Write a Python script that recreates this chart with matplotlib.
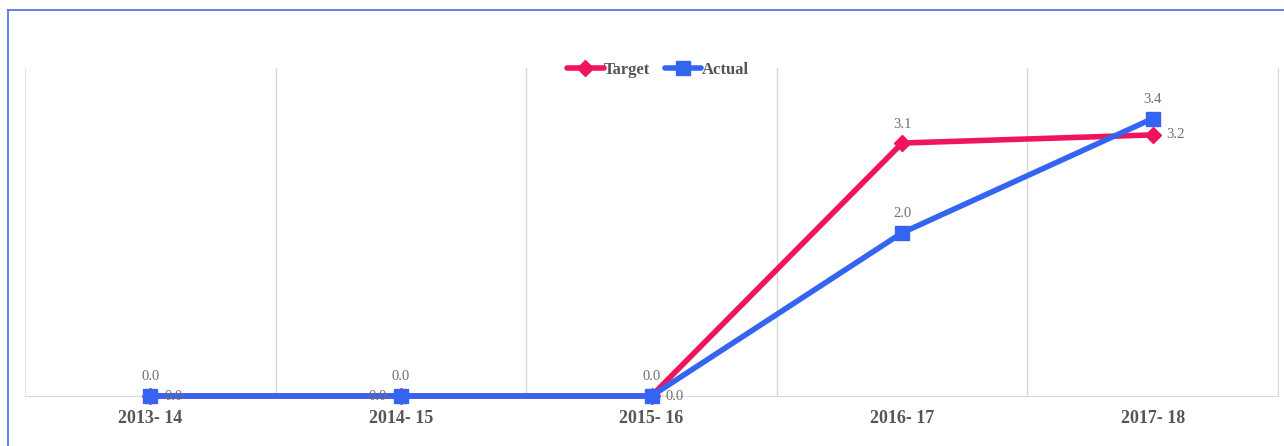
import matplotlib
matplotlib.use("Agg")
import matplotlib.pyplot as plt
from matplotlib.lines import Line2D

categories = ["2013- 14", "2014- 15", "2015- 16", "2016- 17", "2017- 18"]
target = [0.0, 0.0, 0.0, 3.1, 3.2]
actual = [0.0, 0.0, 0.0, 2.0, 3.4]

RED = "#F0155A"
BLUE = "#3464F2"
LABEL = "#6E6E6E"
FONT = ["Liberation Serif", "DejaVu Serif"]

W, H = 1284, 446
fig = plt.figure(figsize=(W / 100, H / 100), dpi=100)
fig.patch.set_facecolor("white")

# outer blue frame (top and left edges visible)
fig.add_artist(Line2D([8 / W, 8 / W], [0, 1 - 10 / H], transform=fig.transFigure, color="#4A6CE0", lw=1.2))
fig.add_artist(Line2D([8 / W, 1], [1 - 10 / H, 1 - 10 / H], transform=fig.transFigure, color="#4A6CE0", lw=1.2))

left, right, top, bottom = 25, 1278, 68, 396
ax = fig.add_axes([left / W, 1 - bottom / H, (right - left) / W, (bottom - top) / H])
ax.set_facecolor("white")

x = list(range(len(categories)))
ax.set_xlim(-0.5, len(categories) - 0.5)
ax.set_ylim(0, 4.02)

# vertical gridlines at category boundaries
for b in [i + 0.5 for i in range(len(categories) - 1)]:
    ax.axvline(b, color="#D9D9D9", lw=1, zorder=0)
for s in ["top", "left"]:
    ax.spines[s].set_visible(False)
ax.spines["right"].set_color("#D9D9D9")
ax.spines["bottom"].set_color("#D9D9D9")
ax.axvline(-0.5, color="#E2EBD8", lw=1, zorder=0)

ax.plot(x, target, color=RED, lw=4, marker="D", markersize=8.5, zorder=3,
        label="Target", solid_capstyle="round", clip_on=False)
ax.plot(x, actual, color=BLUE, lw=4, marker="s", markersize=9.5, zorder=4,
        label="Actual", solid_capstyle="round", clip_on=False)

ax.set_xticks(x)
ax.set_xticklabels(categories, fontfamily=FONT, fontweight="bold", fontsize=13, color="#555555")
ax.set_yticks([])
ax.tick_params(axis="x", length=0, pad=10)

# data labels
tpos = ["right", "left", "right", "above", "right"]
for i, v in enumerate(target):
    if tpos[i] == "right":
        ax.annotate(f"{v:.1f}", (i, v), xytext=(10, 0), textcoords="offset points",
                    ha="left", va="center", fontsize=10.5, color=LABEL, fontfamily=FONT, zorder=5)
    elif tpos[i] == "left":
        ax.annotate(f"{v:.1f}", (i, v), xytext=(-10, 0), textcoords="offset points",
                    ha="right", va="center", fontsize=10.5, color=LABEL, fontfamily=FONT, zorder=5)
    else:
        ax.annotate(f"{v:.1f}", (i, v), xytext=(0, 9), textcoords="offset points",
                    ha="center", va="bottom", fontsize=10.5, color=LABEL, fontfamily=FONT, zorder=5)
for i, v in enumerate(actual):
    ax.annotate(f"{v:.1f}", (i, v), xytext=(0, 9), textcoords="offset points",
                ha="center", va="bottom", fontsize=10.5, color=LABEL, fontfamily=FONT, zorder=5)

leg = ax.legend(loc="center", bbox_to_anchor=(0.505, 0.995), ncol=2, frameon=False,
                handlelength=2.2, handletextpad=0.0, columnspacing=0.9,
                prop={"family": FONT, "weight": "bold", "size": 12})
for t in leg.get_texts():
    t.set_color("#555555")

fig.savefig("out.png", dpi=100, facecolor="white")
